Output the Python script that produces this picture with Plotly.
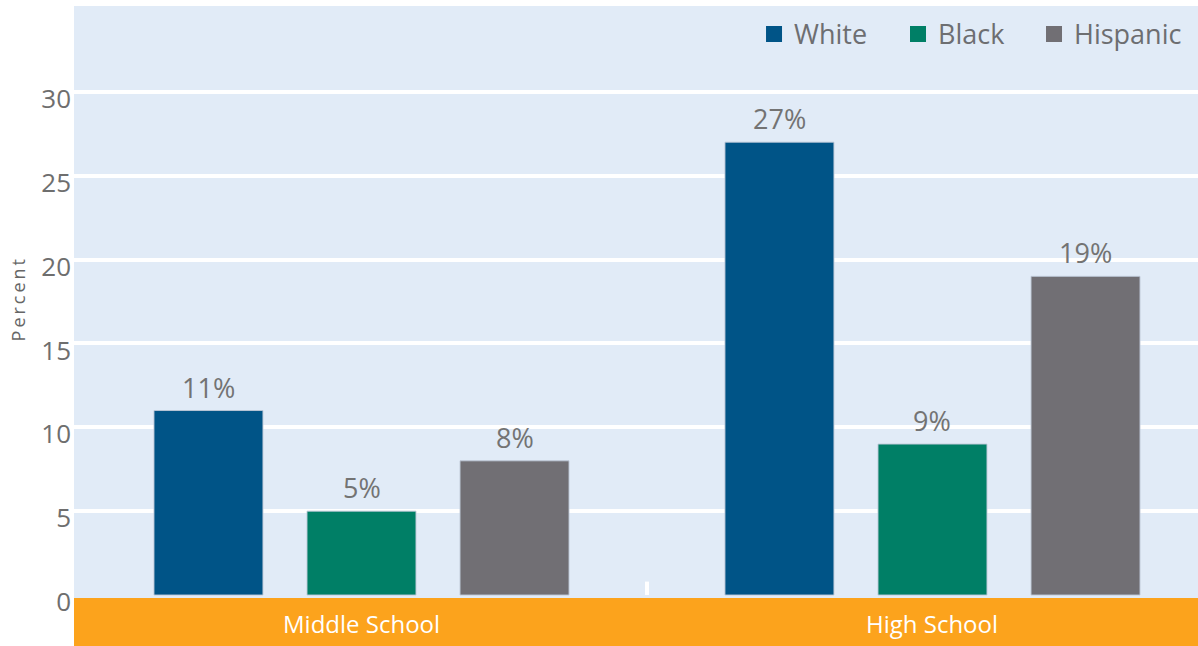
import plotly.graph_objects as go

# School level groups and the share of students in each group
categories = ["Middle School", "High School"]
white_pct = [11, 27]
black_pct = [5, 9]
hispanic_pct = [8, 19]

series_names = ["White", "Black", "Hispanic"]
series_values = [white_pct, black_pct, hispanic_pct]
series_colors = ["#005487", "#007f66", "#716f74"]

y_ticks = [0, 5, 10, 15, 20, 25, 30]

BG = "#e1ebf7"
ORANGE = "#fca31c"
TEXT_GRAY = "#737373"
FONT = "Open Sans"

BARGAP = 0.196
BARGROUPGAP = 0.288

# one small legend box per series so each entry sits at its own spot
legend_ids = ["legend", "legend2", "legend3"]
legend_x = [0.605, 0.7331, 0.8541]

fig = go.Figure()

for name, vals, color, lid in zip(series_names, series_values, series_colors, legend_ids):
    fig.add_trace(go.Bar(
        x=categories, y=vals, name=name, showlegend=False,
        marker=dict(color=color, line=dict(color="rgba(190,200,215,0.9)", width=1)),
        hoverinfo="skip",
    ))
    # legend swatch
    fig.add_trace(go.Scatter(
        x=[None], y=[None], mode="markers", name=name, legend=lid,
        marker=dict(symbol="square", size=16, color=color),
    ))

# value labels above each bar
slot = (1 - BARGAP) / len(series_names)
annotations = []
for k, vals in enumerate(series_values):
    for i, v in enumerate(vals):
        annotations.append(dict(
            x=i + (k - 1) * slot, y=v, xref="x", yref="y",
            text=f"{v}%", showarrow=False, yanchor="bottom", yshift=3,
            font=dict(family=FONT, size=27, color=TEXT_GRAY),
        ))

# group labels on the orange band
for i, cat in enumerate(categories):
    annotations.append(dict(
        x=i, y=0.0345, xref="x", yref="paper", text=cat, showarrow=False,
        yanchor="middle", font=dict(family=FONT, size=24, color="white"),
    ))

# axis title
annotations.append(dict(
    x=-0.0498, y=0.54, xref="paper", yref="paper",
    text="\u2009".join("Percent"), textangle=-90, showarrow=False,
    xanchor="center", yanchor="middle",
    font=dict(family=FONT, size=18, color="#666666"),
))

shapes = [
    # orange category band
    dict(type="rect", xref="paper", yref="paper", x0=0, x1=1, y0=0, y1=48 / 640,
         fillcolor=ORANGE, line=dict(width=0), layer="above"),
    # divider tick between the two groups
    dict(type="line", xref="x", yref="y", x0=0.5, x1=0.5, y0=0, y1=0.8,
         line=dict(color="white", width=4)),
]

legend_style = dict(orientation="h", xanchor="left", y=0.994, yanchor="top",
                    bgcolor="rgba(0,0,0,0)", itemsizing="trace",
                    font=dict(family=FONT, size=27, color="#6d6e71"))

fig.update_layout(
    width=1198, height=646,
    margin=dict(l=74, r=0, t=6, b=0),
    paper_bgcolor="white", plot_bgcolor=BG,
    barmode="group", bargap=BARGAP, bargroupgap=BARGROUPGAP,
    font=dict(family=FONT, color=TEXT_GRAY),
    xaxis=dict(type="category", range=[-0.5035, 1.465], showticklabels=False,
               showgrid=False, zeroline=False, ticks=""),
    yaxis=dict(range=[-3.04, 35.12], tickvals=y_ticks, ticks="",
               showgrid=True, gridcolor="white", gridwidth=4,
               zeroline=True, zerolinecolor=BG, zerolinewidth=4,
               tickfont=dict(family=FONT, size=26, color="#6e6e6e"),
               ticklabelshift=7, ticklabelstandoff=2),
    annotations=annotations,
    shapes=shapes,
)
for lid, lx in zip(legend_ids, legend_x):
    fig.update_layout({lid: dict(legend_style, x=lx)})

fig.write_html("out.html")
